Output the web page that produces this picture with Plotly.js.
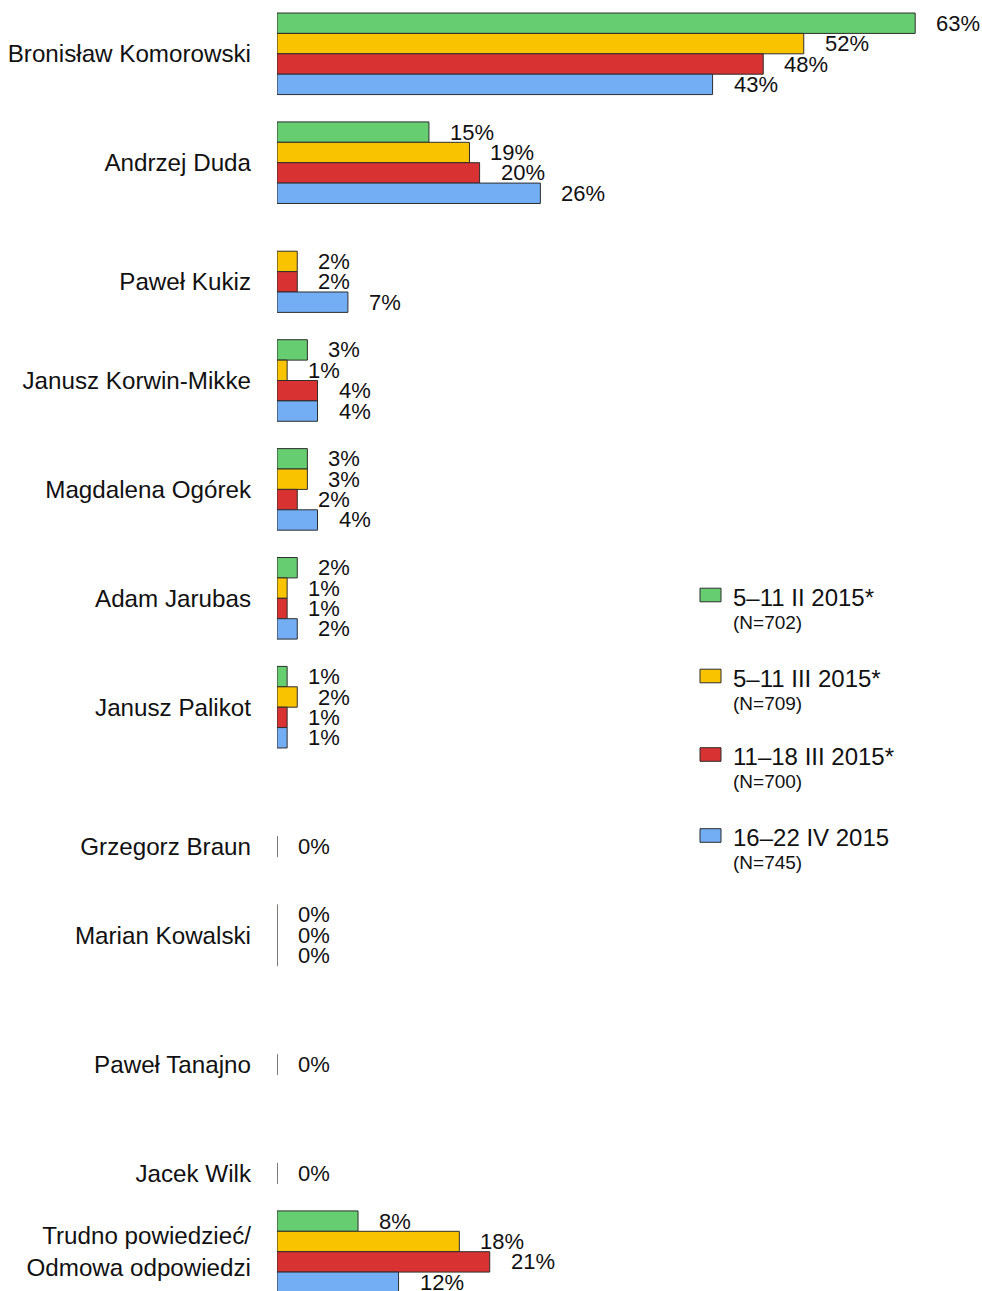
<!DOCTYPE html>
<html><head><meta charset="utf-8">
<script src="https://cdn.plot.ly/plotly-3.0.1.min.js"></script>
<style>html,body{margin:0;padding:0;background:#fff;overflow:hidden}#chart{width:982px;height:1291px;}</style>
</head><body><div id="chart"></div>
<script>
// ---- data ----
const categories = ["Bronisław Komorowski","Andrzej Duda","Paweł Kukiz","Janusz Korwin-Mikke","Magdalena Ogórek","Adam Jarubas","Janusz Palikot","Grzegorz Braun","Marian Kowalski","Paweł Tanajno","Jacek Wilk","Trudno powiedzieć/<br>Odmowa odpowiedzi"];
const seriesNames = ["5–11 II 2015*","5–11 III 2015*","11–18 III 2015*","16–22 IV 2015"];
const seriesN = ["(N=702)","(N=709)","(N=700)","(N=745)"];
const valuesFeb  = [63,15,null,3,3,2,1,null,null,null,null,8];
const valuesMar1 = [52,19,2,1,3,1,2,null,0,null,null,18];
const valuesMar2 = [48,20,2,4,2,1,1,null,0,null,null,21];
const valuesApr  = [43,26,7,4,4,2,1,0,0,0,0,12];

// ---- style ----
const colors = ["#66cd70","#f9c300","#d83232","#73adf4"];
const series = [valuesFeb, valuesMar1, valuesMar2, valuesApr];
const W = 982, H = 1291, L = 277;
const pxPerPct = 10.13, step = 108.9, firstCenter = 53.8;
const bargap = 0.251;
const nS = series.length;
const bw = (1 - bargap) / nS;
const offs = k => -(1 - bargap) / 2 + bw * (k + 0.5);
const FONT = "Liberation Sans, Arial, sans-serif";
const legendRowPx = [595, 676, 754.5, 835.5];

const idx = categories.map((_, i) => i);
const traces = series.map((vals, k) => ({
  type: 'bar', orientation: 'h', name: seriesNames[k],
  y: idx,
  x: vals.map(v => v === null ? null : (v === 0 ? 0.04 : v)),
  marker: {
    color: colors[k],
    line: { color: vals.map(v => v === 0 ? '#777' : '#2e2e2e'), width: 1 }
  },
  hoverinfo: 'none', showlegend: false
}));

const annotations = [];
series.forEach((vals, k) => {
  vals.forEach((v, i) => {
    if (v === null) return;
    annotations.push({
      x: v, y: i + offs(k), xref: 'x', yref: 'y',
      text: v + '%', showarrow: false, xanchor: 'left', yanchor: 'middle',
      xshift: 19, font: { family: FONT, size: 22, color: '#111' }
    });
  });
});

// tick positions: center of visible bars per category
const tickvals = idx.map(i => {
  const ks = series.map((s, k) => s[i] !== null ? k : -1).filter(k => k >= 0);
  return i + (offs(ks[0]) + offs(ks[ks.length - 1])) / 2;
});

// custom legend
const shapes = [];
const px2x = px => (px - L) / (W - L);
const py2y = py => 1 - py / H;
seriesNames.forEach((nm, k) => {
  const cy = legendRowPx[k];
  shapes.push({
    type: 'rect', xref: 'paper', yref: 'paper',
    x0: px2x(700), x1: px2x(721), y0: py2y(cy - 6.8), y1: py2y(cy + 6.8),
    fillcolor: colors[k], line: { color: '#2e2e2e', width: 1 }
  });
  annotations.push({
    xref: 'paper', yref: 'paper', x: px2x(731), y: py2y(cy + 2),
    text: nm, showarrow: false, xanchor: 'left', yanchor: 'middle',
    font: { family: FONT, size: 24, color: '#111' }
  });
  annotations.push({
    xref: 'paper', yref: 'paper', x: px2x(731), y: py2y(cy + 27),
    text: seriesN[k], showarrow: false, xanchor: 'left', yanchor: 'middle',
    font: { family: FONT, size: 19, color: '#111' }
  });
});

const layout = {
  width: W, height: H,
  margin: { l: L, r: 0, t: 0, b: 0, pad: 0 },
  paper_bgcolor: '#fff', plot_bgcolor: '#fff',
  barmode: 'group', bargap: bargap, bargroupgap: 0,
  showlegend: false,
  xaxis: { range: [0, (W - L) / pxPerPct], visible: false, fixedrange: true },
  yaxis: {
    range: [(H - firstCenter) / step, -firstCenter / step], autorange: false,
    tickmode: 'array', tickvals: tickvals, ticktext: categories,
    showgrid: false, zeroline: false, showline: false, ticks: '',
    ticklabelstandoff: 25,
    tickfont: { family: FONT, size: 24.2, color: '#111' }, fixedrange: true
  },
  shapes: shapes, annotations: annotations,
  font: { family: FONT }
};

Plotly.newPlot('chart', traces, layout, { displayModeBar: false, staticPlot: true });
</script>
</body></html>
